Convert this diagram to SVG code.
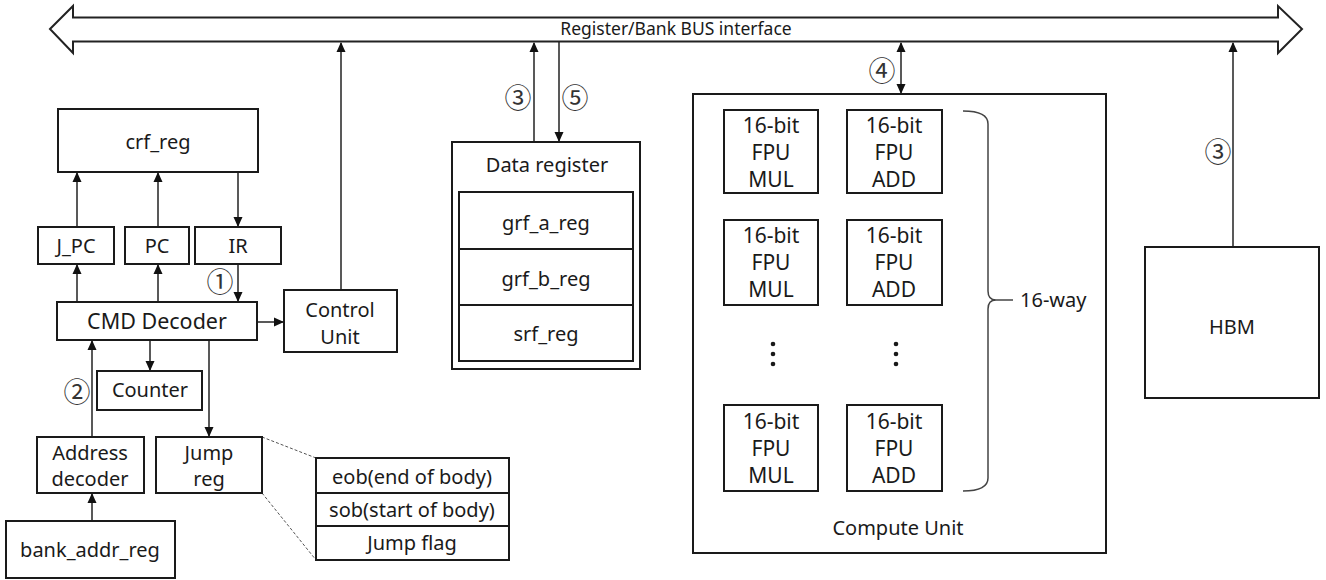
<svg xmlns="http://www.w3.org/2000/svg" width="1326" height="580" viewBox="0 0 1326 580">
<defs>
<marker id="ah" markerWidth="10" markerHeight="10" refX="9" refY="5" orient="auto-start-reverse" markerUnits="userSpaceOnUse">
<path d="M0,0.5 L10,5 L0,9.5 Z" fill="#111"/>
</marker>
<style>
.box{fill:#fff;stroke:#1a1a1a;stroke-width:2}
.t{font-family:"Noto Sans","Liberation Sans",sans-serif;font-size:20px;fill:#1a1a1a;text-anchor:middle}
.f{font-family:"Noto Sans","Liberation Sans",sans-serif;font-size:21px;fill:#1a1a1a;text-anchor:middle}
.c{font-family:"Noto Sans CJK KR","DejaVu Sans",sans-serif;font-size:27px;fill:#333;text-anchor:middle}
.ln{fill:none;stroke:#222;stroke-width:1.5}
.dash{fill:none;stroke:#555;stroke-width:1;stroke-dasharray:3,2}
</style>
</defs>
<rect width="1326" height="580" fill="#fff"/>

<g id="bus">
<polygon points="50,29 73,6 73,17.5 1278,17.5 1278,6 1302,29 1278,53 1278,41.5 73,41.5 73,53" fill="#fff" stroke="#222" stroke-width="2"/>
<text x="676" y="35" class="t" style="font-size:17.5px">Register/Bank BUS interface</text>
</g>

<g id="connectors">
<line class="ln" x1="341" y1="290" x2="341" y2="43" marker-end="url(#ah)"/>
<line class="ln" x1="77" y1="227" x2="77" y2="173" marker-end="url(#ah)"/>
<line class="ln" x1="158" y1="227" x2="158" y2="173" marker-end="url(#ah)"/>
<line class="ln" x1="238" y1="172" x2="238" y2="226" marker-end="url(#ah)"/>
<line class="ln" x1="77" y1="302" x2="77" y2="265" marker-end="url(#ah)"/>
<line class="ln" x1="158" y1="302" x2="158" y2="265" marker-end="url(#ah)"/>
<line class="ln" x1="238" y1="264" x2="238" y2="301" marker-end="url(#ah)"/>
<line class="ln" x1="257" y1="322" x2="283" y2="322" marker-end="url(#ah)"/>
<line class="ln" x1="150" y1="340" x2="150" y2="370" marker-end="url(#ah)"/>
<line class="ln" x1="209" y1="340" x2="209" y2="436" marker-end="url(#ah)"/>
<line class="ln" x1="92" y1="437" x2="92" y2="341" marker-end="url(#ah)"/>
<line class="ln" x1="92" y1="521" x2="92" y2="494" marker-end="url(#ah)"/>
<line class="ln" x1="534" y1="142" x2="534" y2="43" marker-end="url(#ah)"/>
<line class="ln" x1="559" y1="42" x2="559" y2="141" marker-end="url(#ah)"/>
<line class="ln" x1="901" y1="43" x2="901" y2="93" marker-start="url(#ah)" marker-end="url(#ah)"/>
<line class="ln" x1="1233" y1="247" x2="1233" y2="43" marker-end="url(#ah)"/>
<line class="dash" x1="262" y1="437" x2="316" y2="458"/>
<line class="dash" x1="262" y1="493" x2="316" y2="560"/>
<text x="220" y="292" class="c">①</text>
<text x="77" y="402" class="c">②</text>
<text x="518" y="108" class="c">③</text>
<text x="575" y="108" class="c">⑤</text>
<text x="882" y="81" class="c">④</text>
<text x="1218" y="162" class="c">③</text>
</g>

<g id="crf_reg"><rect class="box" x="58" y="109" width="200" height="63"/><text x="158" y="149" class="t">crf_reg</text></g>
<g id="j_pc"><rect class="box" x="38" y="227" width="76" height="37"/><text x="76" y="253" class="t">J_PC</text></g>
<g id="pc"><rect class="box" x="125" y="227" width="64" height="37"/><text x="157" y="253" class="t">PC</text></g>
<g id="ir"><rect class="box" x="195" y="227" width="86" height="37"/><text x="238" y="253" class="t">IR</text></g>
<g id="cmd_decoder"><rect class="box" x="57" y="302" width="200" height="38"/><text x="157" y="329" class="t" style="font-size:21.5px">CMD Decoder</text></g>
<g id="control_unit"><rect class="box" x="284" y="290" width="113" height="62"/><text x="340" y="317" class="t">Control</text><text x="340" y="344" class="t">Unit</text></g>
<g id="counter"><rect class="box" x="97" y="371" width="105" height="39"/><text x="150" y="397" class="t">Counter</text></g>
<g id="address_decoder"><rect class="box" x="37" y="437" width="107" height="56"/><text x="90" y="460" class="t">Address</text><text x="90" y="486" class="t">decoder</text></g>
<g id="jump_reg"><rect class="box" x="156" y="437" width="106" height="56"/><text x="209" y="460" class="t">Jump</text><text x="209" y="486" class="t">reg</text></g>
<g id="bank_addr_reg"><rect class="box" x="6" y="521" width="169" height="57"/><text x="90" y="557" class="t">bank_addr_reg</text></g>
<g id="jump_fields">
<rect class="box" x="316" y="458" width="193" height="102"/>
<line x1="316" y1="493" x2="509" y2="493" stroke="#1a1a1a" stroke-width="2"/>
<line x1="316" y1="526" x2="509" y2="526" stroke="#1a1a1a" stroke-width="2"/>
<text x="412" y="484" class="t">eob(end of body)</text>
<text x="412" y="517" class="t">sob(start of body)</text>
<text x="412" y="550" class="t">Jump flag</text>
</g>

<g id="data_register">
<rect class="box" x="452" y="142" width="188" height="227"/>
<text x="547" y="172" class="t">Data register</text>
<rect class="box" x="459" y="192" width="174" height="169"/>
<line x1="459" y1="249" x2="633" y2="249" stroke="#1a1a1a" stroke-width="2"/>
<line x1="459" y1="305" x2="633" y2="305" stroke="#1a1a1a" stroke-width="2"/>
<text x="546" y="230" class="t">grf_a_reg</text>
<text x="546" y="286" class="t">grf_b_reg</text>
<text x="546" y="341" class="t">srf_reg</text>
</g>

<g id="compute_unit">
<rect class="box" x="693" y="94" width="413" height="459"/>
<text x="898" y="535" class="t">Compute Unit</text>
<g id="fpu_mul_1"><rect class="box" x="724" y="110" width="94" height="83"/><text x="771" y="133" class="f">16-bit</text><text x="771" y="160" class="f">FPU</text><text x="771" y="187" class="f">MUL</text></g>
<g id="fpu_add_1"><rect class="box" x="847" y="110" width="95" height="83"/><text x="894" y="133" class="f">16-bit</text><text x="894" y="160" class="f">FPU</text><text x="894" y="187" class="f">ADD</text></g>
<g id="fpu_mul_2"><rect class="box" x="724" y="220" width="94" height="85"/><text x="771" y="243" class="f">16-bit</text><text x="771" y="270" class="f">FPU</text><text x="771" y="297" class="f">MUL</text></g>
<g id="fpu_add_2"><rect class="box" x="847" y="220" width="95" height="85"/><text x="894" y="243" class="f">16-bit</text><text x="894" y="270" class="f">FPU</text><text x="894" y="297" class="f">ADD</text></g>
<g id="fpu_mul_n"><rect class="box" x="724" y="405" width="94" height="86"/><text x="771" y="429" class="f">16-bit</text><text x="771" y="456" class="f">FPU</text><text x="771" y="483" class="f">MUL</text></g>
<g id="fpu_add_n"><rect class="box" x="847" y="405" width="95" height="86"/><text x="894" y="429" class="f">16-bit</text><text x="894" y="456" class="f">FPU</text><text x="894" y="483" class="f">ADD</text></g>
<g fill="#1a1a1a">
<circle cx="773" cy="344" r="2.3"/><circle cx="773" cy="354" r="2.3"/><circle cx="773" cy="364" r="2.3"/>
<circle cx="896" cy="344" r="2.3"/><circle cx="896" cy="354" r="2.3"/><circle cx="896" cy="364" r="2.3"/>
</g>
<path d="M963,111 Q988,111 988,124 L988,291 Q988,300 996,300 Q988,300 988,309 L988,478 Q988,491 963,491" fill="none" stroke="#444" stroke-width="1.5"/>
<line x1="996" y1="300" x2="1013" y2="300" stroke="#444" stroke-width="1.5"/>
<text x="1020" y="307" class="t" style="text-anchor:start">16-way</text>
</g>

<g id="hbm"><rect class="box" x="1145" y="247" width="174" height="151"/><text x="1232" y="334" class="t">HBM</text></g>
</svg>
